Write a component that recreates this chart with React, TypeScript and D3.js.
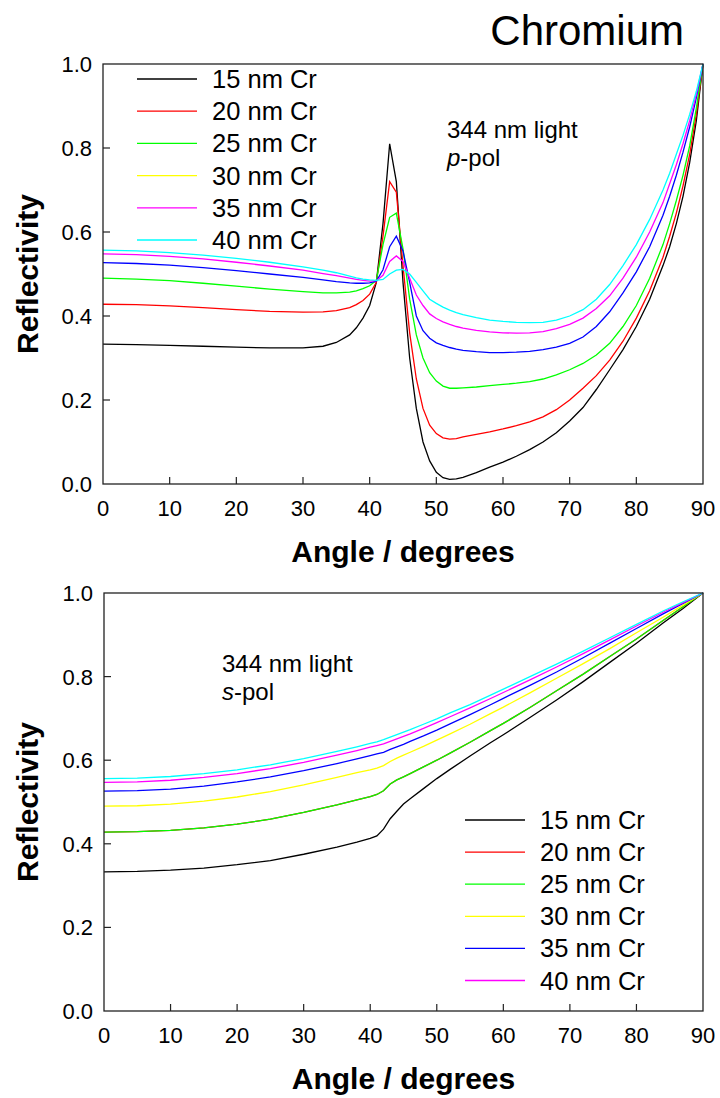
import React from 'react';
import * as d3 from 'd3';

// ---------- p-polarised data (top panel) ----------
const ANGLES_P = [0, 5, 10, 15, 20, 25, 30, 33, 35, 37, 38, 39, 40, 41, 42, 43, 44, 45, 46, 47, 48, 49, 50, 51, 52, 53, 54, 56, 58, 60, 62, 64, 66, 68, 70, 72, 74, 76, 78, 80, 82, 84, 85, 86, 87, 88, 89, 90];
const P15 = [0.333, 0.332, 0.330, 0.328, 0.326, 0.324, 0.324, 0.328, 0.337, 0.355, 0.372, 0.395, 0.425, 0.48, 0.62, 0.81, 0.72, 0.48, 0.30, 0.18, 0.10, 0.055, 0.028, 0.015, 0.011, 0.012, 0.016, 0.027, 0.04, 0.052, 0.066, 0.082, 0.1, 0.122, 0.15, 0.182, 0.225, 0.272, 0.32, 0.375, 0.44, 0.52, 0.565, 0.62, 0.685, 0.765, 0.865, 1.0];
const P20 = [0.428, 0.427, 0.424, 0.42, 0.415, 0.411, 0.409, 0.41, 0.413, 0.42, 0.427, 0.437, 0.452, 0.48, 0.59, 0.72, 0.695, 0.52, 0.36, 0.25, 0.18, 0.14, 0.12, 0.11, 0.107, 0.108, 0.112, 0.118, 0.124, 0.131, 0.139, 0.148, 0.16, 0.177, 0.2, 0.228, 0.258, 0.295, 0.34, 0.395, 0.46, 0.54, 0.59, 0.645, 0.71, 0.785, 0.88, 1.0];
const P25 = [0.49, 0.488, 0.484, 0.478, 0.471, 0.464, 0.458, 0.455, 0.455, 0.457, 0.46, 0.465, 0.472, 0.485, 0.57, 0.635, 0.645, 0.56, 0.44, 0.355, 0.3, 0.265, 0.245, 0.233, 0.228, 0.228, 0.229, 0.231, 0.234, 0.237, 0.24, 0.244, 0.25, 0.26, 0.272, 0.287, 0.307, 0.335, 0.375, 0.425, 0.49, 0.57, 0.62, 0.675, 0.735, 0.805, 0.895, 1.0];
const P30 = [0.527, 0.525, 0.521, 0.515, 0.508, 0.5, 0.492, 0.486, 0.482, 0.479, 0.478, 0.478, 0.479, 0.483, 0.51, 0.565, 0.59, 0.555, 0.48, 0.4, 0.365, 0.347, 0.336, 0.33, 0.325, 0.321, 0.318, 0.315, 0.313, 0.313, 0.314, 0.316, 0.32, 0.326, 0.335, 0.35, 0.375, 0.41, 0.455, 0.505, 0.565, 0.64, 0.685, 0.735, 0.79, 0.85, 0.92, 1.0];
const P35 = [0.548, 0.546, 0.542, 0.536, 0.528, 0.519, 0.509, 0.501, 0.496, 0.49, 0.487, 0.485, 0.483, 0.484, 0.497, 0.53, 0.543, 0.53, 0.49, 0.45, 0.425, 0.405, 0.394, 0.386, 0.38, 0.375, 0.371, 0.366, 0.362, 0.36, 0.359, 0.36, 0.363, 0.37, 0.38, 0.395, 0.418, 0.448, 0.49, 0.54, 0.6, 0.67, 0.715, 0.76, 0.81, 0.865, 0.928, 1.0];
const P40 = [0.557, 0.555, 0.551, 0.545, 0.537, 0.528, 0.517, 0.509, 0.503, 0.495, 0.491, 0.488, 0.486, 0.485, 0.487, 0.5, 0.509, 0.511, 0.5, 0.48, 0.46, 0.44, 0.43, 0.421, 0.414, 0.408, 0.403, 0.396, 0.39, 0.387, 0.385, 0.384, 0.385, 0.39, 0.4, 0.415, 0.44, 0.475, 0.52, 0.57, 0.63, 0.7, 0.74, 0.785, 0.83, 0.88, 0.935, 1.0];

// ---------- s-polarised data (bottom panel) ----------
const ANGLES_S = [0, 5, 10, 15, 20, 25, 30, 35, 38, 40, 41, 42, 43, 44, 45, 46, 48, 50, 52, 55, 58, 60, 64, 68, 72, 76, 80, 84, 87, 90];
const S15 = [0.333, 0.334, 0.337, 0.342, 0.35, 0.36, 0.375, 0.392, 0.404, 0.413, 0.419, 0.435, 0.46, 0.478, 0.495, 0.508, 0.532, 0.556, 0.578, 0.61, 0.641, 0.661, 0.702, 0.744, 0.788, 0.834, 0.88, 0.928, 0.963, 1.0];
const S20 = [0.428, 0.429, 0.432, 0.438, 0.447, 0.459, 0.475, 0.493, 0.505, 0.513, 0.518, 0.527, 0.543, 0.553, 0.56, 0.568, 0.584, 0.6, 0.617, 0.643, 0.67, 0.688, 0.726, 0.766, 0.806, 0.848, 0.89, 0.934, 0.967, 1.0];
const S25 = [0.428, 0.429, 0.432, 0.438, 0.447, 0.459, 0.475, 0.493, 0.505, 0.513, 0.518, 0.527, 0.543, 0.553, 0.56, 0.568, 0.584, 0.6, 0.617, 0.643, 0.67, 0.688, 0.726, 0.766, 0.806, 0.848, 0.89, 0.934, 0.967, 1.0];
const S30 = [0.49, 0.491, 0.495, 0.502, 0.512, 0.525, 0.541, 0.559, 0.57, 0.577, 0.581, 0.587, 0.597, 0.605, 0.612, 0.619, 0.633, 0.648, 0.663, 0.686, 0.711, 0.727, 0.761, 0.796, 0.831, 0.867, 0.905, 0.942, 0.971, 1.0];
const S35 = [0.526, 0.527, 0.531, 0.538, 0.548, 0.56, 0.575, 0.592, 0.603, 0.611, 0.615, 0.619, 0.626, 0.632, 0.638, 0.645, 0.658, 0.672, 0.687, 0.709, 0.732, 0.748, 0.779, 0.811, 0.845, 0.88, 0.915, 0.95, 0.975, 1.0];
const S40 = [0.547, 0.548, 0.552, 0.559, 0.568, 0.58, 0.595, 0.612, 0.623, 0.631, 0.635, 0.639, 0.645, 0.651, 0.657, 0.663, 0.676, 0.69, 0.704, 0.725, 0.747, 0.762, 0.792, 0.823, 0.855, 0.888, 0.921, 0.954, 0.977, 1.0];
const S45 = [0.556, 0.557, 0.561, 0.568, 0.577, 0.589, 0.604, 0.621, 0.632, 0.64, 0.644, 0.649, 0.655, 0.661, 0.667, 0.673, 0.686, 0.699, 0.713, 0.733, 0.755, 0.77, 0.8, 0.83, 0.861, 0.893, 0.925, 0.957, 0.979, 1.0];

// ---------- labels / ticks ----------
const LEGEND_LABELS = ['15 nm Cr', '20 nm Cr', '25 nm Cr', '30 nm Cr', '35 nm Cr', '40 nm Cr'];
const TOP_LEGEND_COLORS = ['#000000', '#ff0000', '#00ff00', '#ffff00', '#ff00ff', '#00ffff'];
const BOTTOM_LEGEND_COLORS = ['#000000', '#ff0000', '#00ff00', '#ffff00', '#0000ff', '#ff00ff'];
const TOP_LINE_COLORS = ['#000000', '#ff0000', '#00ff00', '#0000ff', '#ff00ff', '#00ffff'];
const BOTTOM_LINE_COLORS = ['#000000', '#ff0000', '#00ff00', '#ffff00', '#0000ff', '#ff00ff', '#00ffff'];
const X_TICKS = [0, 10, 20, 30, 40, 50, 60, 70, 80, 90];
const Y_TICKS = [0, 0.2, 0.4, 0.6, 0.8, 1.0];

const FONT = "'Liberation Sans', Arial, Helvetica, sans-serif";

type PanelProps = {
  x0: number; x1: number; y0: number; y1: number;
  angles: number[]; series: number[][]; colors: string[];
  legendColors: string[]; legendX: number; legendY: number; legendGap: number;
  noteX: number; noteY: number; pol: string;
};

function Panel(p: PanelProps) {
  const x = d3.scaleLinear().domain([0, 90]).range([p.x0, p.x1]);
  const y = d3.scaleLinear().domain([0, 1]).range([p.y1, p.y0]);
  const line = d3.line<number>()
    .x((_, i) => x(p.angles[i]))
    .y((d) => y(d))
    .curve(d3.curveLinear);
  const fmt = d3.format('.1f');
  const tickLen = 7;
  return (
    <g>
      <defs>
        <clipPath id={`clip-${p.y0}`}>
          <rect x={p.x0} y={p.y0 - 2} width={p.x1 - p.x0 + 2} height={p.y1 - p.y0 + 2} />
        </clipPath>
      </defs>
      <g clipPath={`url(#clip-${p.y0})`}>
        {p.series.map((s, i) => (
          <path key={i} d={line(s) || ''} fill="none" stroke={p.colors[i]} strokeWidth={1.3} />
        ))}
      </g>
      <rect x={p.x0} y={p.y0} width={p.x1 - p.x0} height={p.y1 - p.y0} fill="none" stroke="#222" strokeWidth={1.3} />
      {X_TICKS.map((t) => (
        <g key={`x${t}`}>
          {t > 0 && t < 90 && (
            <line x1={x(t)} x2={x(t)} y1={p.y1} y2={p.y1 - tickLen} stroke="#222" strokeWidth={1.2} />
          )}
          <text x={x(t)} y={p.y1 + 32} textAnchor="middle" fontSize={22} fontFamily={FONT} fill="#000">{t}</text>
        </g>
      ))}
      {Y_TICKS.map((t) => (
        <g key={`y${t}`}>
          {t > 0 && t < 1 && (
            <line x1={p.x0} x2={p.x0 + tickLen} y1={y(t)} y2={y(t)} stroke="#222" strokeWidth={1.2} />
          )}
          <text x={p.x0 - 11} y={y(t) + 8} textAnchor="end" fontSize={22} fontFamily={FONT} fill="#000">{fmt(t)}</text>
        </g>
      ))}
      <text x={(p.x0 + p.x1) / 2} y={p.y1 + 78} textAnchor="middle" fontSize={30} fontWeight="bold" fontFamily={FONT}>Angle / degrees</text>
      <text transform={`translate(38,${(p.y0 + p.y1) / 2}) rotate(-90)`} textAnchor="middle" fontSize={30} fontWeight="bold" fontFamily={FONT}>Reflectivity</text>
      {LEGEND_LABELS.map((lab, i) => (
        <g key={lab}>
          <line x1={p.legendX} x2={p.legendX + 60} y1={p.legendY + i * p.legendGap} y2={p.legendY + i * p.legendGap} stroke={p.legendColors[i]} strokeWidth={1.3} />
          <text x={p.legendX + 75} y={p.legendY + i * p.legendGap + 9} fontSize={25.5} fontFamily={FONT}>{lab}</text>
        </g>
      ))}
      <text x={p.noteX} y={p.noteY} fontSize={24} fontFamily={FONT}>344 nm light</text>
      <text x={p.noteX} y={p.noteY + 28} fontSize={24} fontFamily={FONT}>
        <tspan fontStyle="italic">{p.pol}</tspan>-pol
      </text>
    </g>
  );
}

export default function App() {
  return (
    <svg width={720} height={1098} style={{ position: 'absolute', left: 0, top: 0, background: '#fff' }}>
      <rect x={0} y={0} width={720} height={1098} fill="#fff" />
      <text x={684} y={45} textAnchor="end" fontSize={42} fontFamily={FONT}>Chromium</text>
      <Panel x0={103} x1={703} y0={64} y1={484}
        angles={ANGLES_P} series={[P15, P20, P25, P30, P35, P40]} colors={TOP_LINE_COLORS}
        legendColors={TOP_LEGEND_COLORS} legendX={137} legendY={79} legendGap={32.2}
        noteX={447} noteY={138} pol="p" />
      <Panel x0={104} x1={703} y0={593} y1={1011}
        angles={ANGLES_S} series={[S15, S20, S25, S30, S35, S40, S45]} colors={BOTTOM_LINE_COLORS}
        legendColors={BOTTOM_LEGEND_COLORS} legendX={465} legendY={820} legendGap={32.1}
        noteX={222} noteY={672} pol="s" />
    </svg>
  );
}
